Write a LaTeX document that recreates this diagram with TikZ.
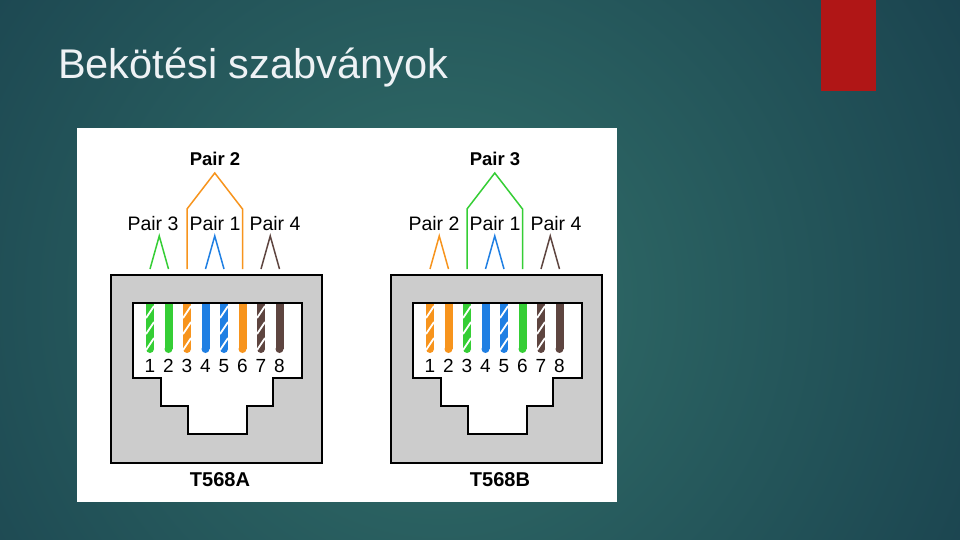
\documentclass[tikz,border=0pt]{standalone}
\usepackage{fontspec}
\setmainfont{Liberation Sans}
\usetikzlibrary{calc}

\definecolor{bgdark}{HTML}{163B4A}
\definecolor{bglight}{HTML}{32706A}
\definecolor{accent}{HTML}{B01616}
\definecolor{titlegray}{HTML}{EEF2F5}
\definecolor{jackgray}{HTML}{CCCCCC}
\definecolor{wgreen}{HTML}{35CE35}
\definecolor{worange}{HTML}{F7941D}
\definecolor{wblue}{HTML}{1F7FE3}
\definecolor{wbrown}{HTML}{5E4540}

\tikzset{
    jackbox/.style={draw=black, line width=2pt, fill=jackgray},
    socket/.style={draw=black, line width=1.5pt, fill=white},
    stripe/.style={draw=white, line width=1.8pt},
    pairline/.style={line width=1.5pt, line join=miter},
    pairtext/.style={inner sep=0pt, anchor=base, font=\fontsize{19.5}{22}\selectfont},
    pairhead/.style={inner sep=0pt, anchor=base, font=\fontsize{18.5}{22}\selectfont\bfseries},
    pinnum/.style={inner sep=0pt, anchor=base, font=\fontsize{19}{22}\selectfont},
    stdname/.style={inner sep=0pt, anchor=base, font=\fontsize{20}{24}\selectfont\bfseries},
}

\begin{document}
\begin{tikzpicture}[x=1pt, y=-1pt]
        \useasboundingbox (0,0) rectangle (960,540);
        \clip (0,0) rectangle (960,540);

        % slide
        \fill[bgdark] (0,0) rectangle (960,540);
        \shade[inner color=bglight, outer color=bgdark] (440,300) circle (720);
        \fill[accent] (821,0) rectangle (876,91);
        \node[anchor=base west, inner sep=0pt, text=titlegray, font=\fontsize{41.5}{48}\selectfont] (title) at (58,79) {Bekötési szabványok};

        \fill[white] (77,128) rectangle (617,502);

        % T568A
        \begin{scope}
            \filldraw[jackbox] (111,275) rectangle (322,463);
            \filldraw[socket] (133,303) -- (302,303) -- (302,378) -- (273,378) -- (273,406) -- (247,406)
                -- (247,434) -- (188,434) -- (188,406) -- (161,406) -- (161,378) -- (133,378) -- cycle;
            \foreach \n/\c in {1/wgreen, 2/wgreen, 3/worange, 4/wblue, 5/wblue, 6/worange, 7/wbrown, 8/wbrown} {
                \pgfmathsetmacro{\x}{150+18.5*(\n-1)}
                \fill[\c] (\x-4,304) rectangle (\x+4,349);
                \fill[\c] (\x,349) circle (4);
                \ifodd\n
                    \foreach \s in {312,328,344} {\draw[stripe] (\x-4,\s+6) -- (\x+4,\s-6);}
                \fi
                \coordinate (tA\n) at (\x,269);
                \node[pinnum] (nA\n) at (\x,372) {\n};
            }

            \draw[pairline, wgreen] (tA1) -- ($(tA1)!.5!(tA2) + (0,-33)$) -- (tA2);
            \draw[pairline, wblue] (tA4) -- ($(tA4)!.5!(tA5) + (0,-33)$) -- (tA5);
            \draw[pairline, wbrown] (tA7) -- ($(tA7)!.5!(tA8) + (0,-33)$) -- (tA8);
            \draw[pairline, worange] (tA3) -- ++(0,-60) -- ($(tA3)!.5!(tA6) + (0,-96)$) -- ($(tA6) + (0,-60)$) -- (tA6);

            \node[pairhead] (headA) at (215,165) {Pair 2};
            \node[pairtext] (leftA) at (153,230) {Pair 3};
            \node[pairtext] (midA) at (215,230) {Pair 1};
            \node[pairtext] (rightA) at (275,230) {Pair 4};
            \node[stdname] (stdA) at (220,486) {T568A};
        \end{scope}

        % T568B
        \begin{scope}[xshift=280pt]
            \filldraw[jackbox] (111,275) rectangle (322,463);
            \filldraw[socket] (133,303) -- (302,303) -- (302,378) -- (273,378) -- (273,406) -- (247,406)
                -- (247,434) -- (188,434) -- (188,406) -- (161,406) -- (161,378) -- (133,378) -- cycle;
            \foreach \n/\c in {1/worange, 2/worange, 3/wgreen, 4/wblue, 5/wblue, 6/wgreen, 7/wbrown, 8/wbrown} {
                \pgfmathsetmacro{\x}{150+18.5*(\n-1)}
                \fill[\c] (\x-4,304) rectangle (\x+4,349);
                \fill[\c] (\x,349) circle (4);
                \ifodd\n
                    \foreach \s in {312,328,344} {\draw[stripe] (\x-4,\s+6) -- (\x+4,\s-6);}
                \fi
                \coordinate (tB\n) at (\x,269);
                \node[pinnum] (nB\n) at (\x,372) {\n};
            }

            \draw[pairline, worange] (tB1) -- ($(tB1)!.5!(tB2) + (0,-33)$) -- (tB2);
            \draw[pairline, wblue] (tB4) -- ($(tB4)!.5!(tB5) + (0,-33)$) -- (tB5);
            \draw[pairline, wbrown] (tB7) -- ($(tB7)!.5!(tB8) + (0,-33)$) -- (tB8);
            \draw[pairline, wgreen] (tB3) -- ++(0,-60) -- ($(tB3)!.5!(tB6) + (0,-96)$) -- ($(tB6) + (0,-60)$) -- (tB6);

            \node[pairhead] (headB) at (215,165) {Pair 3};
            \node[pairtext] (leftB) at (154,230) {Pair 2};
            \node[pairtext] (midB) at (215,230) {Pair 1};
            \node[pairtext] (rightB) at (276,230) {Pair 4};
            \node[stdname] (stdB) at (220,486) {T568B};
        \end{scope}
    \end{tikzpicture}
\end{document}
